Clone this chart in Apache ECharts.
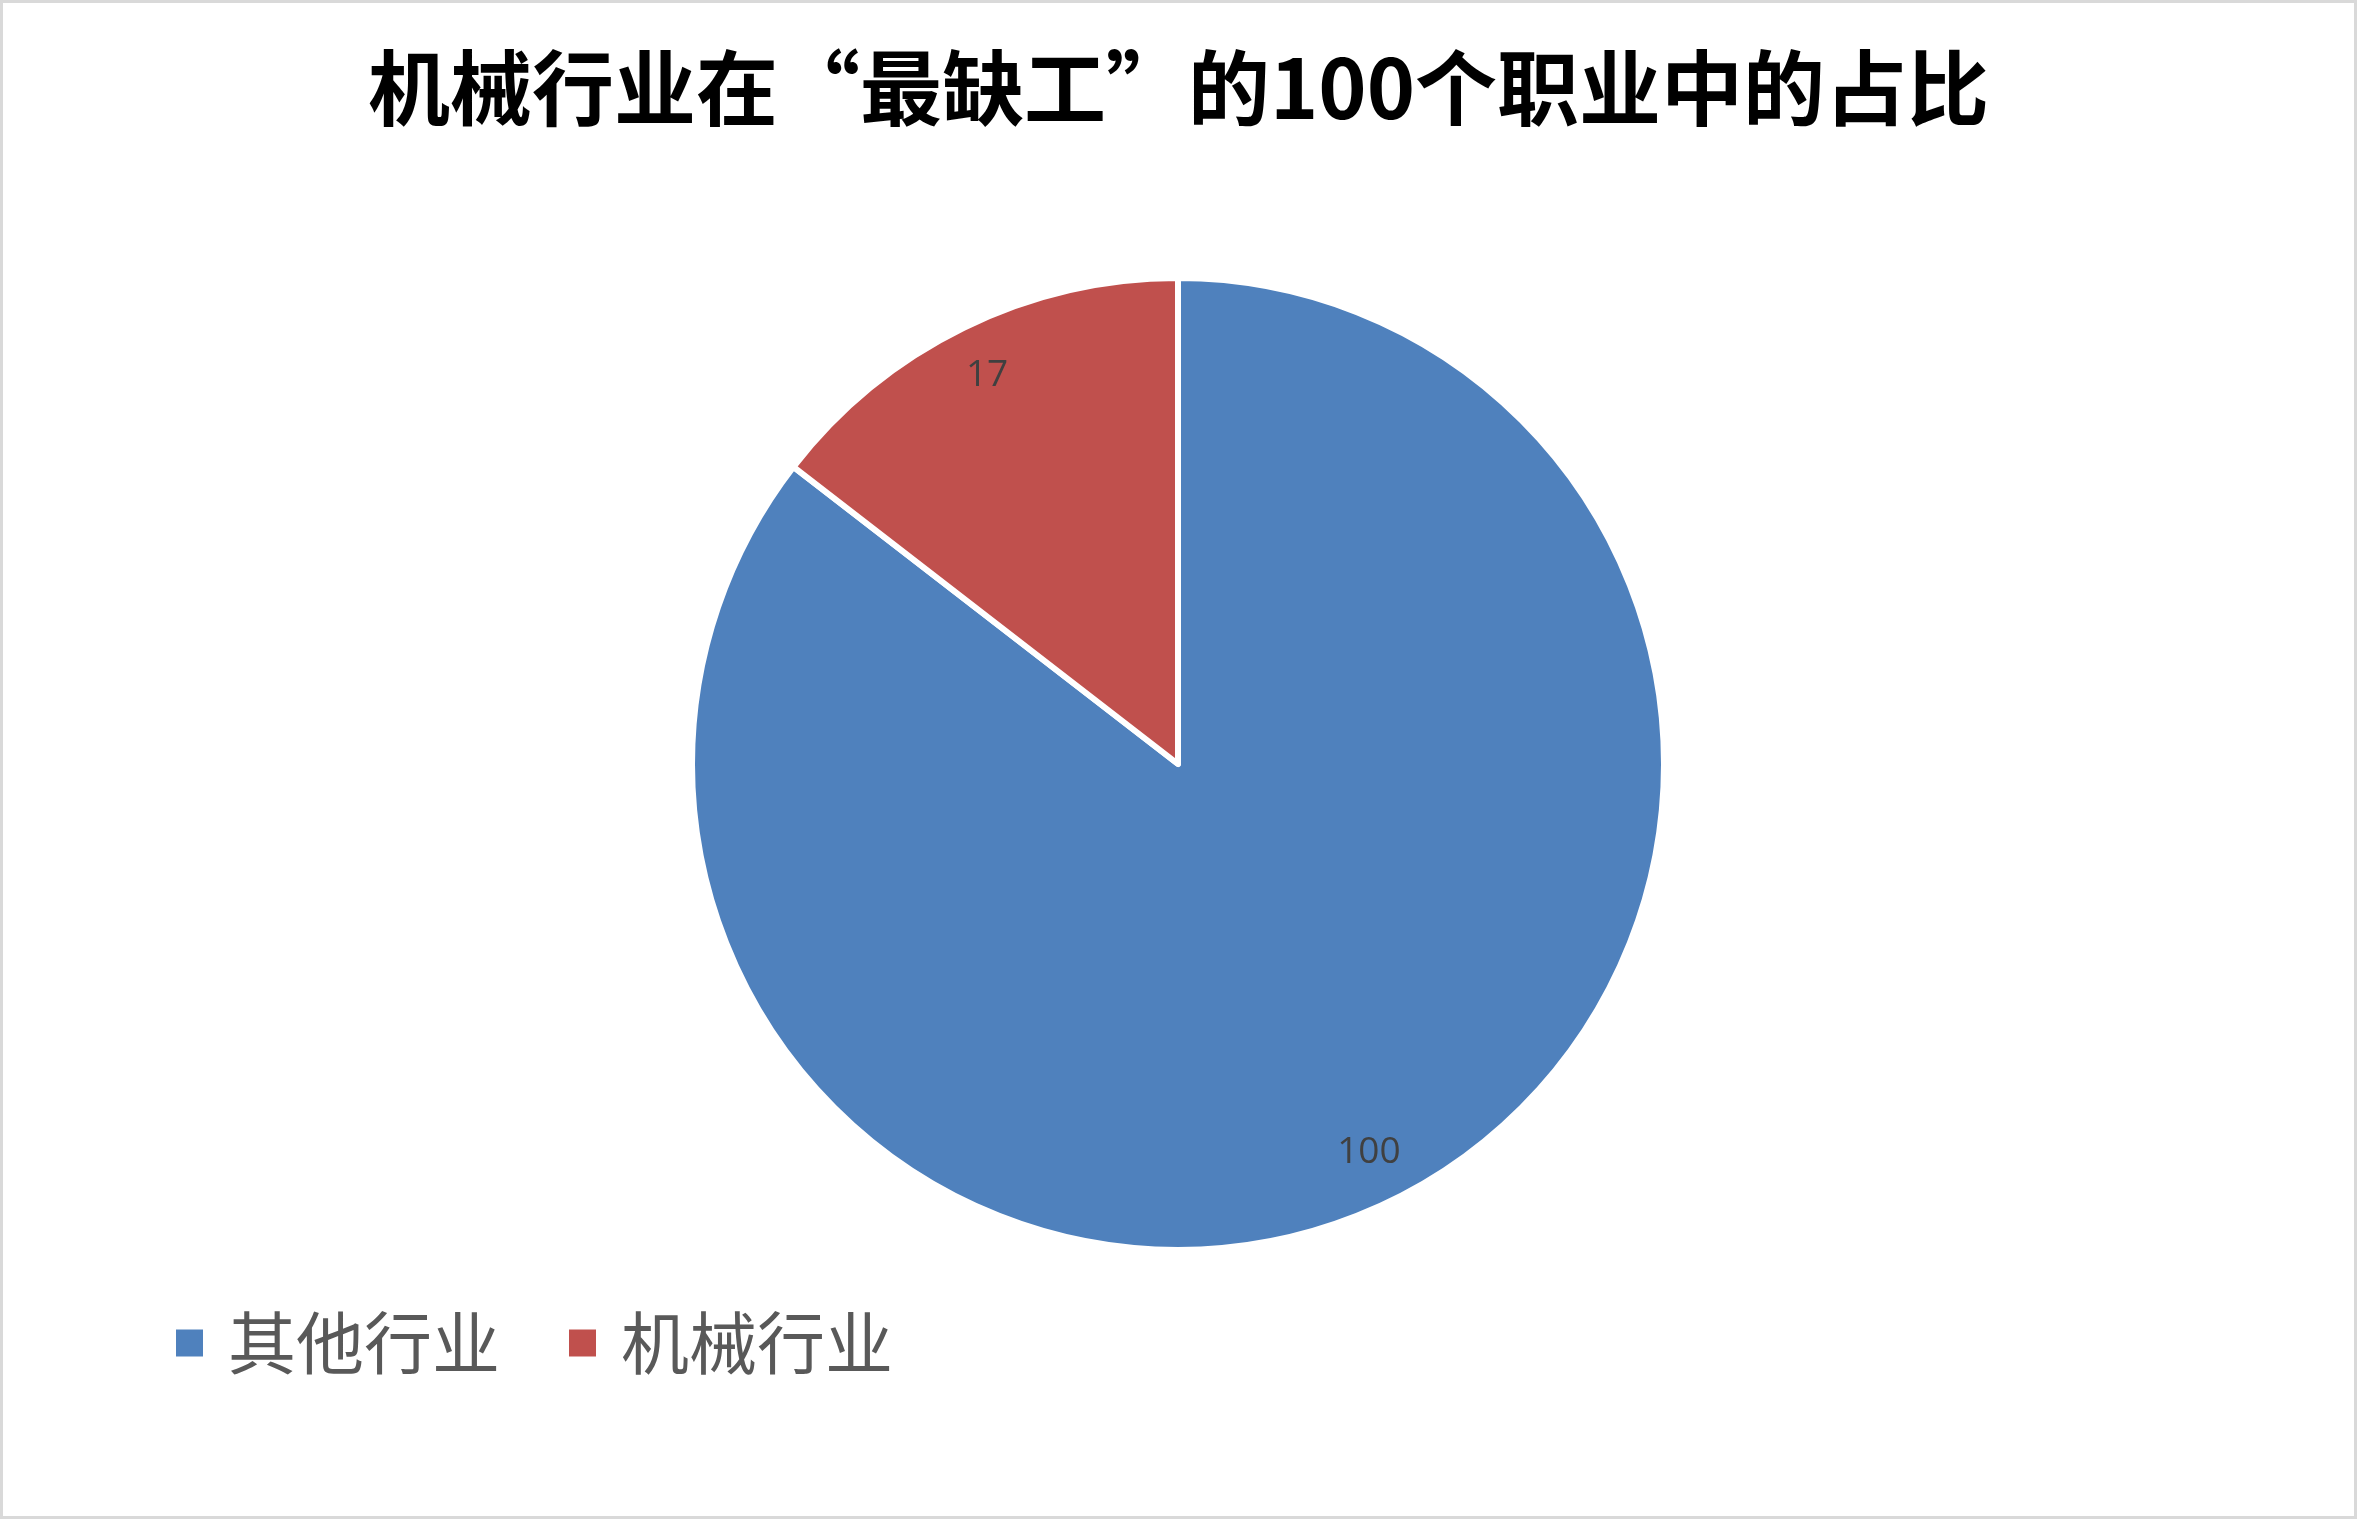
<!DOCTYPE html>
<html>
<head>
<meta charset="utf-8">
<style>
html,body{margin:0;padding:0;background:#fff;}
#chart{width:2357px;height:1519px;}
</style>
<script src="https://cdn.jsdelivr.net/npm/echarts@6/dist/echarts.min.js"></script>
</head>
<body>
<div id="chart"></div>
<script>
const titleText = '机械行业在“最缺工”的100个职业中的占比';
const categories = ['其他行业', '机械行业'];
const values = [100, 17];
const colors = ['#4F81BD', '#C0504D'];

const chart = echarts.init(document.getElementById('chart'), null, {renderer: 'canvas'});
const pieData = categories.map((c, i) => ({name: c, value: values[i], itemStyle: {color: colors[i]}}));
const R = 486;
const center = [1178, 764];

chart.setOption({
  backgroundColor: '#ffffff',
  animation: false,
  title: {
    text: titleText,
    left: 'center',
    top: 42,
    textStyle: {fontFamily: 'Noto Sans CJK SC', fontWeight: 'bold', fontSize: 82, color: '#000000'}
  },
  legend: {
    data: categories,
    orient: 'horizontal',
    left: 169,
    top: 1304,
    icon: 'rect',
    itemWidth: 29,
    itemHeight: 29,
    itemGap: 67,
    textStyle: {fontFamily: 'Noto Sans CJK SC', fontSize: 68, color: '#595959', padding: [0, 0, 0, 19]}
  },
  graphic: [{
    type: 'rect',
    silent: true,
    shape: {x: 1.5, y: 1.5, width: 2354, height: 1516},
    style: {fill: 'none', stroke: '#d9d9d9', lineWidth: 3}
  }],
  series: [{
    type: 'pie',
    center: center,
    radius: [0, R],
    startAngle: 90,
    clockwise: true,
    data: pieData,
    label: {show: false},
    labelLine: {show: false},
    itemStyle: {borderColor: '#ffffff', borderWidth: 6},
    emphasis: {disabled: true}
  }, {
    type: 'pie',
    center: center,
    radius: [R * 0.77, R],
    startAngle: 90,
    clockwise: true,
    silent: true,
    legendHoverLink: false,
    data: pieData.map(d => ({name: d.name, value: d.value, itemStyle: {color: 'rgba(0,0,0,0)'}})),
    itemStyle: {borderWidth: 0},
    label: {show: true, position: 'inside', formatter: '{c}', fontFamily: 'Open Sans', fontSize: 37, color: '#404040'},
    labelLine: {show: false},
    emphasis: {disabled: true},
    tooltip: {show: false}
  }]
});
</script>
</body>
</html>
